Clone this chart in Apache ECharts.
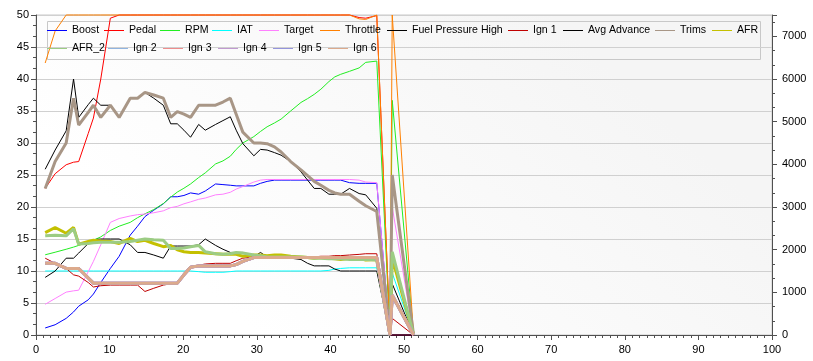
<!DOCTYPE html>
<html><head><meta charset="utf-8">
<script src="https://cdn.jsdelivr.net/npm/echarts/dist/echarts.min.js"></script>
<style>html,body{margin:0;padding:0;background:#fff}#c{width:813px;height:361px}</style>
</head><body><div id="c"></div>
<script>
// sample times (x axis)
const times = [1.25, 2.6, 4.1, 5.1, 5.8, 7.1, 7.8, 8.8, 10.1, 11.3, 12.8, 13.8, 14.8, 16.0, 17.3, 18.3, 19.2, 20.1, 21.0, 22.1, 23.0, 24.4, 25.4, 26.4, 27.2, 28.1, 29.6, 30.5, 31.4, 32.4, 33.3, 34.6, 36.0, 36.9, 37.8, 38.7, 39.8, 40.6, 41.4, 42.6, 43.9, 44.8, 46.3, 48.1, 48.4, 51.3];

const boost = [1.1, 1.6, 2.6, 3.6, 4.5, 5.5, 6.4, 8.2, 10.4, 12.3, 15.6, 17.0, 18.5, 19.5, 20.5, 21.6, 21.6, 21.8, 22.2, 22.0, 22.5, 23.6, 23.5, 23.4, 23.3, 23.3, 23.3, 23.7, 24.0, 24.2, 24.2, 24.2, 24.2, 24.2, 24.2, 24.2, 24.2, 24.2, 24.2, 23.8, 23.7, 23.7, 23.7, 0, 0, 0];
const pedal = [22.9, 25.2, 26.6, 27.0, 27.1, 31.5, 33.9, 40.0, 49.5, 50, 50, 50, 50, 50, 50, 50, 50, 50, 50, 50, 50, 50, 50, 50, 50, 50, 50, 50, 50, 50, 50, 50, 50, 50, 50, 50, 50, 50, 50, 50, 49.6, 49.5, 49.9, 0, 0, 0];
const rpm = [1880, 1940, 2010, 2060, 2100, 2180, 2220, 2300, 2450, 2550, 2640, 2750, 2840, 2940, 3080, 3230, 3350, 3440, 3540, 3690, 3800, 4010, 4080, 4190, 4350, 4500, 4650, 4770, 4880, 4970, 5060, 5250, 5450, 5540, 5640, 5760, 5940, 6050, 6110, 6180, 6260, 6390, 6420, 0, 5500, 0];
const iat = [10.0, 10.0, 10.0, 10.0, 10.0, 10.0, 10.0, 10.0, 10.0, 10.0, 10.0, 10.0, 10.0, 10.0, 10.0, 10.0, 10.0, 10.0, 10.0, 9.9, 9.8, 9.8, 9.8, 9.9, 10.0, 10.0, 10.0, 10.0, 10.0, 10.0, 10.0, 10.0, 10.0, 10.0, 10.0, 10.0, 10.1, 10.3, 10.4, 10.5, 10.5, 10.5, 10.5, 0, 9.7, 0];
const target = [4.8, 5.7, 6.7, 6.9, 7.0, 9.9, 11.5, 14.1, 17.6, 18.2, 18.6, 18.8, 18.9, 19.1, 19.4, 19.9, 20.1, 20.5, 20.8, 21.2, 21.4, 21.9, 22.0, 22.3, 22.8, 23.2, 23.9, 24.2, 24.3, 24.3, 24.3, 24.3, 24.3, 24.3, 24.3, 24.3, 24.3, 24.3, 24.3, 24.3, 24.2, 23.9, 23.8, 0, 20, 0];
const throttle = [42.5, 47.5, 50, 50, 50, 50, 50, 50, 50, 50, 50, 50, 50, 50, 50, 50, 50, 50, 50, 50, 50, 50, 50, 50, 50, 50, 50, 50, 50, 50, 50, 50, 50, 50, 50, 50, 50, 50, 50, 50, 49.4, 49.3, 50, 0, 50, 0];
const fuelPressureHigh = [25.9, 28.9, 31.9, 40.0, 34.0, 36.0, 37.0, 35.9, 35.9, 34.0, 37.0, 37.0, 37.9, 37.0, 35.9, 33.0, 33.0, 32.0, 30.9, 32.9, 32.0, 32.9, 33.5, 34.1, 32.0, 29.9, 28.0, 29.0, 28.9, 28.5, 28.1, 27.1, 25.5, 24.2, 22.9, 22.9, 22.0, 22.0, 22.0, 22.9, 22.1, 21.9, 19.8, 0, 8, 0];
const ign1 = [12.0, 11.2, 10.4, 9.4, 9.2, 8.2, 7.5, 7.7, 7.8, 7.8, 7.8, 7.8, 6.8, 7.3, 7.8, 8.0, 8.1, 9.5, 10.7, 10.9, 11.1, 11.2, 11.2, 11.2, 11.6, 12.0, 12.2, 12.2, 12.2, 12.2, 12.2, 12.2, 12.2, 12.2, 12.2, 12.3, 12.3, 12.4, 12.4, 12.5, 12.6, 12.7, 12.7, 0, 2.6, 0];
const avgAdvance = [9.0, 10.0, 12.0, 12.0, 12.8, 14.3, 14.9, 15.0, 15.0, 15.0, 14.1, 12.9, 12.9, 12.5, 12.0, 13.9, 13.9, 13.9, 13.9, 14.1, 15.0, 14.0, 13.4, 12.9, 12.9, 12.9, 12.2, 12.9, 12.2, 12.2, 12.1, 12.0, 11.8, 11.2, 10.8, 10.8, 10.8, 10.3, 10.0, 10.0, 10.0, 10.0, 10.0, 0, 0, 0];
const trims = [22.9, 27.1, 30.0, 37.0, 32.8, 34.8, 35.9, 34.0, 35.9, 34.0, 37.0, 37.0, 37.9, 37.5, 37.0, 34.0, 34.9, 34.5, 34.0, 35.9, 35.9, 35.9, 36.4, 37.0, 34.5, 31.7, 30.0, 30.0, 29.9, 29.4, 28.6, 27.1, 25.8, 24.9, 24.0, 23.4, 22.6, 22.2, 22.0, 22.0, 20.9, 20.2, 19.3, 0, 25, 0];
const afr = [16.0, 16.8, 15.9, 16.8, 14.2, 14.6, 14.8, 14.7, 14.6, 14.3, 15.1, 14.6, 14.8, 14.3, 13.8, 14.0, 13.3, 13.0, 12.9, 12.9, 12.8, 12.7, 12.6, 12.6, 12.6, 12.3, 12.5, 12.5, 12.4, 12.5, 12.5, 12.3, 12.2, 12.1, 12.0, 12.1, 12.0, 11.9, 11.8, 12.0, 12.0, 11.7, 11.8, 0, 12, 0];
const afr2 = [15.5, 15.6, 15.5, 16.6, 14.2, 14.3, 14.4, 14.5, 14.5, 14.5, 14.6, 14.8, 15.0, 14.9, 14.8, 13.5, 13.5, 13.6, 13.8, 14.0, 13.0, 12.7, 12.6, 12.7, 12.9, 12.8, 12.5, 12.4, 12.2, 12.2, 12.2, 12.2, 12.2, 12.1, 12.0, 12.0, 11.9, 11.9, 11.9, 11.8, 11.8, 11.8, 11.7, 0, 13, 0];
// Ign 2..6 lie on top of each other in the picture
const ignBank = [11.2, 11.2, 10.4, 10.4, 10.4, 8.9, 8.1, 8.1, 8.1, 8.1, 8.1, 8.1, 8.1, 8.1, 8.1, 8.1, 8.1, 9.4, 10.6, 10.8, 10.8, 10.8, 10.8, 10.8, 11.0, 11.5, 12.1, 12.1, 12.1, 12.1, 12.1, 12.1, 12.1, 12.1, 12.1, 12.1, 12.1, 12.1, 12.1, 12.1, 12.1, 12.1, 12.1, 0, 6.2, 0];

const seriesNames = ['Boost', 'Pedal', 'RPM', 'IAT', 'Target', 'Throttle', 'Fuel Pressure High', 'Ign 1', 'Avg Advance', 'Trims', 'AFR', 'AFR_2', 'Ign 2', 'Ign 3', 'Ign 4', 'Ign 5', 'Ign 6'];
const seriesValues = [boost, pedal, rpm, iat, target, throttle, fuelPressureHigh, ign1, avgAdvance, trims, afr, afr2, ignBank, ignBank, ignBank, ignBank, ignBank];

// styling / layout (not data)
const colors = ['#0000ff', '#ff0000', '#22ee22', '#00ffff', '#ff80ff', '#ff8000', '#000000', '#c00000', '#000000', '#a89686', '#c4c000', '#9ccc84', '#90b4e0', '#ee8c8c', '#c09ad0', '#9494dc', '#dcaa8c'];
const widths = [1, 1, 1, 1, 1, 1, 1, 1, 1, 3, 3, 3, 3, 3, 3, 3, 3];
const axisIdx = [0, 0, 1, 0, 0, 0, 0, 0, 0, 0, 0, 0, 0, 0, 0, 0, 0];
const legendTextX = [72, 129, 185, 237, 284, 345, 412, 533, 588, 680, 737, 72, 133, 188, 243, 298, 353];
const legendRow = [0, 0, 0, 0, 0, 0, 0, 0, 0, 0, 0, 1, 1, 1, 1, 1, 1];
const rowTop = [25, 43];

const axisColor = '#505050';
const labelFont = { color: '#000', fontSize: 11, fontFamily: 'Liberation Sans, Arial, sans-serif' };
const legendFont = { color: '#000', fontSize: 10.6, fontFamily: 'Liberation Sans, Arial, sans-serif' };

const chart = echarts.init(document.getElementById('c'), null, { renderer: 'canvas' });
chart.setOption({
  animation: false,
  backgroundColor: '#ffffff',
  grid: {
    left: 36, right: 41, top: 15, bottom: 26, containLabel: false, outerBoundsMode: 'none',
    show: true, borderColor: '#c8c8c8', borderWidth: 1,
    backgroundColor: new echarts.graphic.LinearGradient(0.7, 0, 0.3, 1, [
      { offset: 0, color: '#f5f5f5' }, { offset: 1, color: '#ffffff' }])
  },
  legend: seriesNames.map((n, i) => ({
    data: [n], left: legendTextX[i] - 25, top: rowTop[legendRow[i]], padding: 0,
    icon: 'rect', itemWidth: 20, itemHeight: 1, selectedMode: false,
    textStyle: legendFont
  })),
  graphic: [{
    type: 'rect', shape: { x: 47.5, y: 21.5, width: 713, height: 38 },
    style: { fill: 'none', stroke: '#c8c8c8', lineWidth: 1 }, silent: true
  }],
  xAxis: {
    type: 'value', min: 0, max: 100, interval: 10,
    axisLine: { show: true, lineStyle: { color: axisColor } },
    axisTick: { show: true, length: 5, lineStyle: { color: axisColor } },
    minorTick: { show: true, splitNumber: 10, length: 3, lineStyle: { color: axisColor } },
    splitLine: { show: false },
    axisLabel: Object.assign({ margin: 9 }, labelFont)
  },
  yAxis: [{
    type: 'value', min: 0, max: 50, interval: 5, position: 'left',
    axisLine: { show: true, lineStyle: { color: axisColor } },
    axisTick: { show: true, length: 5, lineStyle: { color: axisColor } },
    minorTick: { show: true, splitNumber: 3, length: 3, lineStyle: { color: axisColor } },
    splitLine: { show: true, lineStyle: { color: '#d0d0d0', width: 1 } },
    axisLabel: Object.assign({ margin: 7 }, labelFont)
  }, {
    type: 'value', min: 0, max: 7500, interval: 1000, position: 'right',
    axisLine: { show: true, lineStyle: { color: axisColor } },
    axisTick: { show: true, length: 5, lineStyle: { color: axisColor } },
    minorTick: { show: true, splitNumber: 3, length: 3, lineStyle: { color: axisColor } },
    splitLine: { show: false },
    axisLabel: Object.assign({ margin: 10, showMaxLabel: false, formatter: v => String(v) }, labelFont)
  }],
  series: seriesNames.map((n, i) => ({
    name: n, type: 'line', yAxisIndex: axisIdx[i],
    data: times.map((t, k) => [t, seriesValues[i][k]]),
    showSymbol: false, symbol: 'none', clip: false,
    lineStyle: { color: colors[i], width: widths[i] },
    itemStyle: { color: colors[i] },
    emphasis: { disabled: true }
  }))
});
</script></body></html>
